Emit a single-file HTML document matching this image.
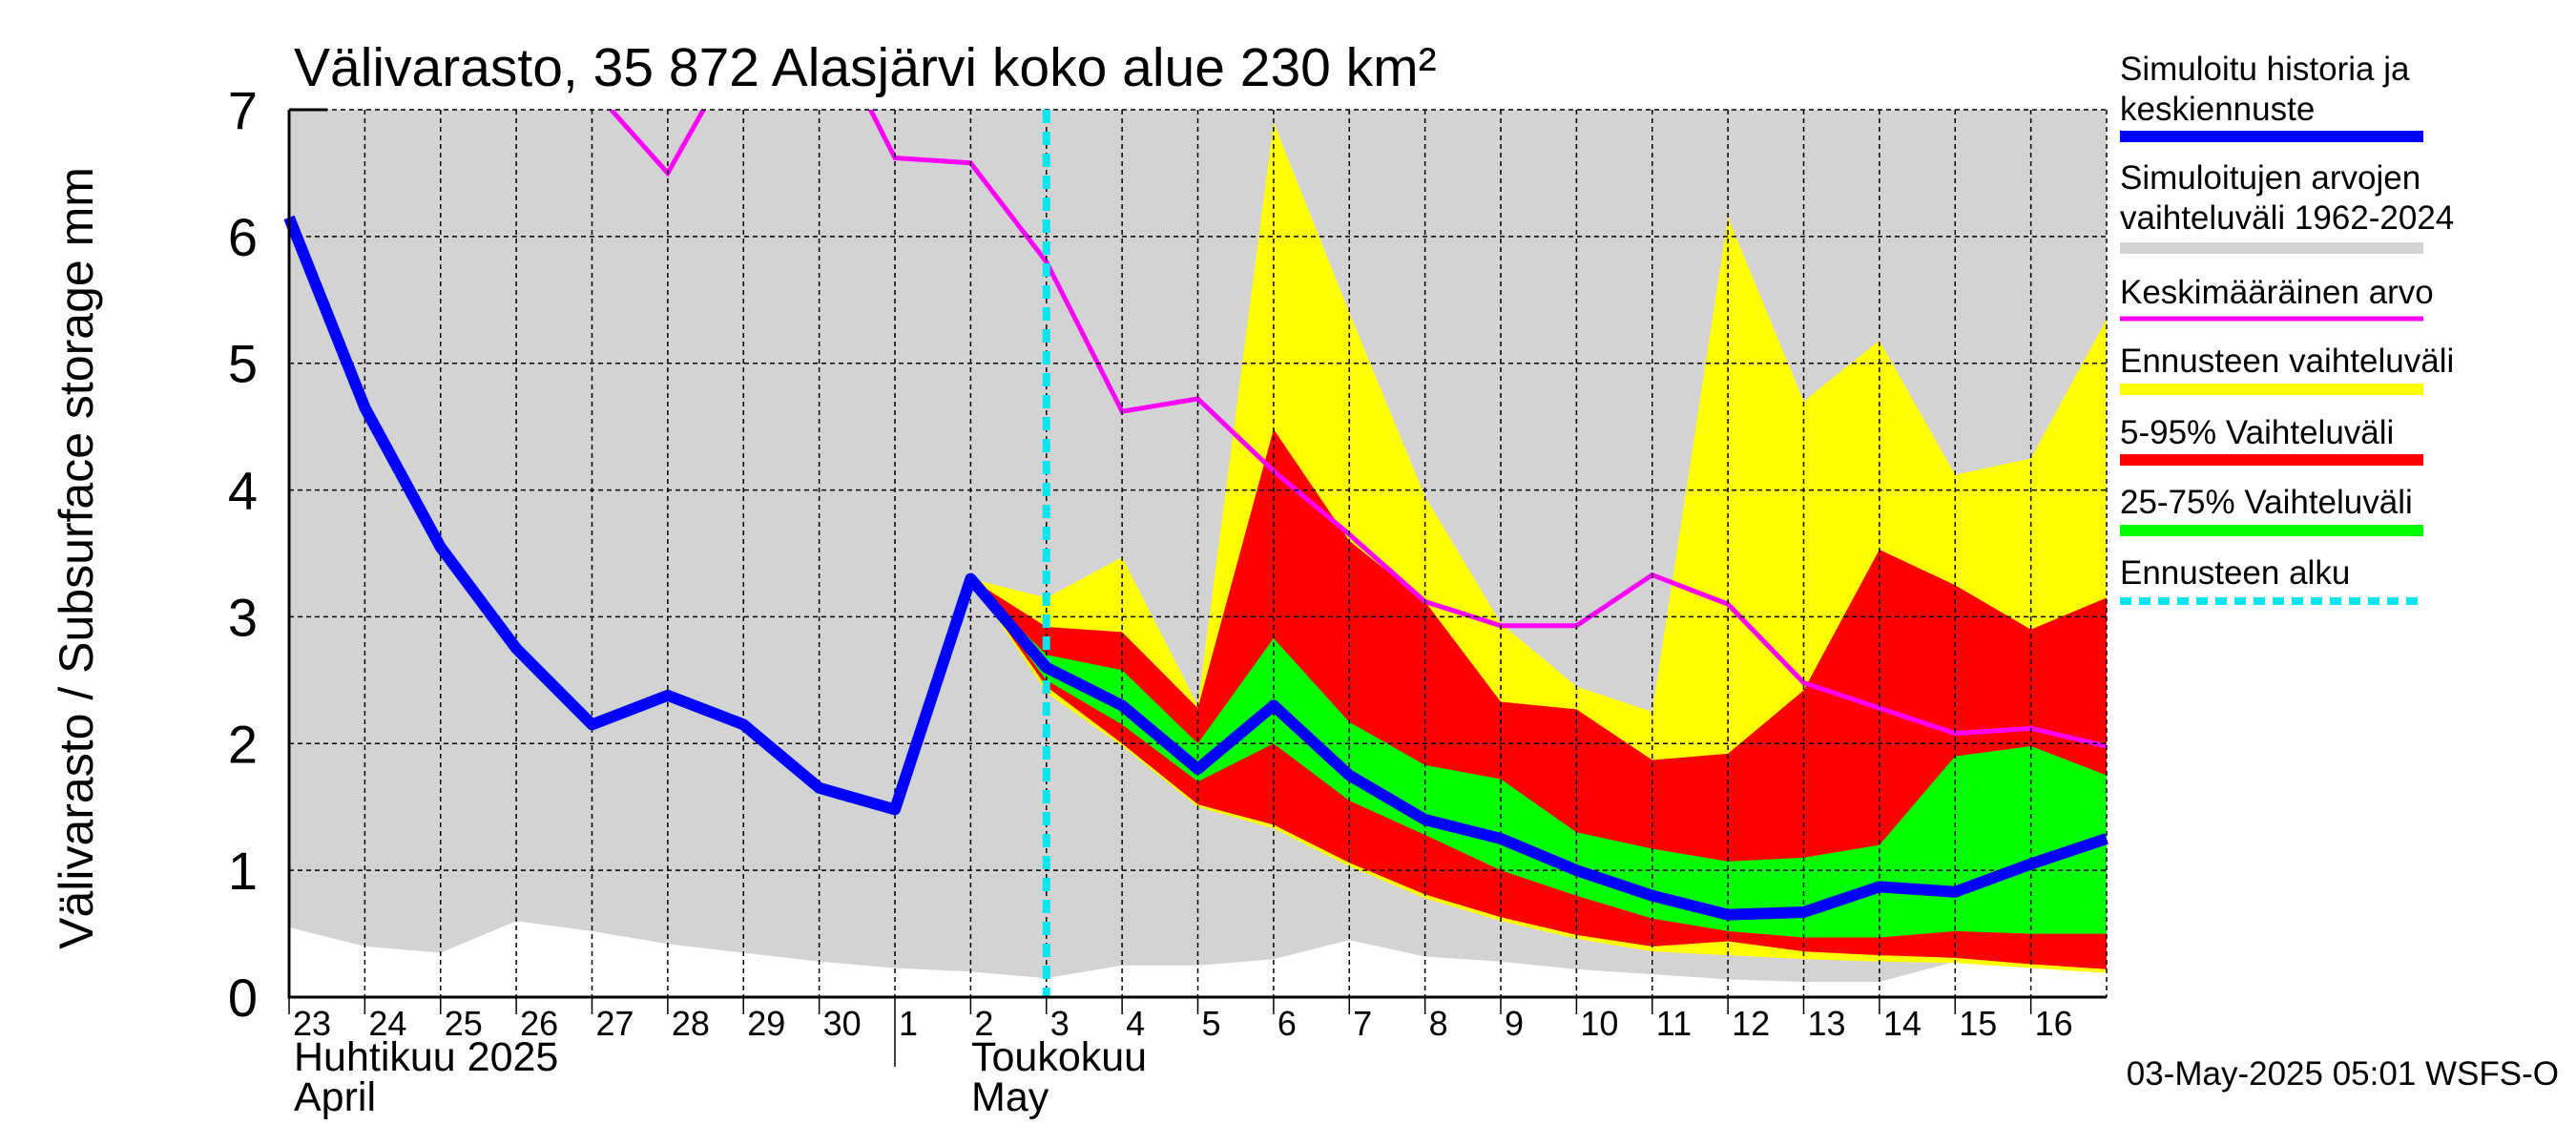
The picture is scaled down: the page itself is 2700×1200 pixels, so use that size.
<!DOCTYPE html>
<html><head><meta charset="utf-8"><style>
html,body{margin:0;padding:0;background:#fff}
svg{display:block;font-family:"Liberation Sans",sans-serif}
</style></head><body>
<svg id="chart" width="2700" height="1200" viewBox="0 0 2700 1200" xmlns="http://www.w3.org/2000/svg">
<defs><clipPath id="plotclip"><rect x="303" y="115" width="1905" height="930"/></clipPath></defs>
<text x="308" y="90" font-size="57">Välivarasto, 35 872 Alasjärvi koko alue 230 km²</text>
<text transform="translate(97,585) rotate(-90)" text-anchor="middle" font-size="50">Välivarasto / Subsurface storage  mm</text>
<g id="plot" clip-path="url(#plotclip)"></g>
<g id="grid"></g>
<g id="axes"></g>
<text x="308" y="1122" font-size="43">Huhtikuu  2025</text>
<text x="308" y="1164" font-size="43">April</text>
<text x="1018" y="1122" font-size="43">Toukokuu</text>
<text x="1018" y="1164" font-size="43">May</text>
<text x="2682" y="1137" text-anchor="end" font-size="35">03-May-2025 05:01 WSFS-O</text>
<g id="legend" font-size="35">
<text x="2222" y="84">Simuloitu historia ja</text>
<text x="2222" y="126">keskiennuste</text>
<line x1="2222" y1="143" x2="2540" y2="143" stroke="#0000ff" stroke-width="12"/>
<text x="2222" y="198">Simuloitujen arvojen</text>
<text x="2222" y="240">vaihteluväli 1962-2024</text>
<line x1="2222" y1="260" x2="2540" y2="260" stroke="#d3d3d3" stroke-width="12"/>
<text x="2222" y="318">Keskimääräinen arvo</text>
<line x1="2222" y1="334" x2="2540" y2="334" stroke="#ff00ff" stroke-width="5"/>
<text x="2222" y="390">Ennusteen vaihteluväli</text>
<line x1="2222" y1="408" x2="2540" y2="408" stroke="#ffff00" stroke-width="12"/>
<text x="2222" y="465">5-95% Vaihteluväli</text>
<line x1="2222" y1="482" x2="2540" y2="482" stroke="#ff0000" stroke-width="12"/>
<text x="2222" y="538">25-75% Vaihteluväli</text>
<line x1="2222" y1="556" x2="2540" y2="556" stroke="#00ff00" stroke-width="12"/>
<text x="2222" y="612">Ennusteen alku</text>
<line x1="2222" y1="630" x2="2540" y2="630" stroke="#00e5ee" stroke-width="8" stroke-dasharray="12,8"/>
</g>
</svg>
<script>
const dayLabels=["23","24","25","26","27","28","29","30","1","2","3","4","5","6","7","8","9","10","11","12","13","14","15","16"];
const yTicks=[0,1,2,3,4,5,6,7];
const simulated=[6.15,4.65,3.55,2.75,2.15,2.38,2.15,1.65,1.48,3.3,2.6,2.3,1.8,2.3,1.75,1.4,1.25,1.0,0.8,0.65,0.67,0.87,0.83,1.05,1.25];
const histMin=[0.55,0.4,0.35,0.6,0.52,0.42,0.35,0.28,0.23,0.2,0.15,0.25,0.25,0.3,0.45,0.32,0.28,0.22,0.18,0.14,0.12,0.12,0.28,0.24,0.2];
const meanIdx=[4,5,6,7,8,9,10,11,12,13,14,15,16,17,18,19,20,21,22,23,24];
const meanVal=[7.17,6.5,7.56,7.8,6.62,6.58,5.8,4.62,4.72,4.15,3.65,3.12,2.93,2.93,3.33,3.1,2.48,2.28,2.08,2.12,1.98];
const fcStart=9;
const fcMax=[3.3,3.15,3.47,2.3,6.9,5.4,3.95,2.95,2.45,2.25,6.15,4.7,5.18,4.12,4.25,5.35];
const fcMin=[3.3,2.4,1.98,1.5,1.33,1.03,0.78,0.6,0.46,0.36,0.33,0.3,0.28,0.27,0.23,0.19];
const p95=[3.3,2.92,2.88,2.28,4.48,3.6,3.12,2.33,2.27,1.87,1.92,2.42,3.53,3.25,2.9,3.15];
const p5=[3.3,2.45,2.0,1.52,1.36,1.06,0.81,0.63,0.49,0.4,0.44,0.36,0.33,0.31,0.26,0.22];
const p75=[3.3,2.7,2.58,2.0,2.83,2.17,1.83,1.72,1.3,1.17,1.07,1.1,1.2,1.9,1.98,1.75];
const p25=[3.3,2.5,2.15,1.7,2.0,1.55,1.28,1.0,0.8,0.62,0.52,0.47,0.47,0.52,0.5,0.5];
const forecastStartIdx=10;

const X0=303,X1=2208,Y0=1045,Y1=115,NDAYS=24,YMAX=7;
const xs=i=>X0+(X1-X0)*i/NDAYS;
const ys=v=>Y0-(Y0-Y1)*v/YMAX;
const NS="http://www.w3.org/2000/svg";
function mk(tag,attrs,parent){const e=document.createElementNS(NS,tag);for(const k in attrs)e.setAttribute(k,attrs[k]);parent.appendChild(e);return e;}
const plot=document.getElementById('plot'),grid=document.getElementById('grid'),axes=document.getElementById('axes');
function band(hi,lo,start,color,name){
  let pts=[];
  hi.forEach((v,i)=>pts.push(xs(start+i)+','+ys(v)));
  for(let i=lo.length-1;i>=0;i--)pts.push(xs(start+i)+','+ys(lo[i]));
  const p=mk('polygon',{points:pts.join(' '),fill:color},plot);
  
  
}
let gp=[xs(0)+','+ys(7.5),xs(NDAYS)+','+ys(7.5)];
for(let i=histMin.length-1;i>=0;i--)gp.push(xs(i)+','+ys(histMin[i]));
const gpoly=mk('polygon',{points:gp.join(' '),fill:'#d3d3d3'},plot);


band(fcMax,fcMin,fcStart,'#ffff00','forecast-range-band');
band(p95,p5,fcStart,'#ff0000','band-5-95');
band(p75,p25,fcStart,'#00ff00','band-25-75');
const ml=mk('polyline',{points:meanIdx.map((d,i)=>xs(d)+','+ys(meanVal[i])).join(' '),fill:'none',stroke:'#ff00ff','stroke-width':5},plot);


yTicks.forEach(v=>{
  if(v>0){const l=mk('line',{x1:X0,x2:X1,y1:ys(v),y2:ys(v),stroke:'#000','stroke-width':1.5,'stroke-dasharray':'5,4'},grid);
  
  }
  const t=mk('text',{x:270,y:ys(v)+20,'text-anchor':'end','font-size':56},axes);
  t.textContent=v;
  
  
});
for(let i=1;i<=NDAYS;i++){
  const l=mk('line',{x1:xs(i),x2:xs(i),y1:Y1,y2:Y0,stroke:'#000','stroke-width':1.5,'stroke-dasharray':'5,4'},grid);
  
  
}
const fsl=mk('line',{x1:xs(forecastStartIdx),x2:xs(forecastStartIdx),y1:Y1,y2:Y0,stroke:'#00e5ee','stroke-width':8,'stroke-dasharray':'14,9'},grid);


const sl=mk('polyline',{points:simulated.map((v,i)=>xs(i)+','+ys(v)).join(' '),fill:'none',stroke:'#0000ff','stroke-width':12,'stroke-linejoin':'round'},grid);


const ax=mk('polyline',{points:`${X0},${Y1} ${X0},${Y0} ${X1},${Y0}`,fill:'none',stroke:'#000','stroke-width':3},axes);


const tk=mk('line',{x1:X0,x2:X0+40,y1:Y1,y2:Y1,stroke:'#000','stroke-width':3},axes);


dayLabels.forEach((d,i)=>{
  const l=mk('line',{x1:xs(i),x2:xs(i),y1:Y0,y2:Y0+(i===8?73:18),stroke:'#000','stroke-width':1.5},axes);
  
  
  const t=mk('text',{x:xs(i)+4,y:Y0+40,'font-size':36},axes);
  t.textContent=d;
  
  
});
</script>
</body></html>
